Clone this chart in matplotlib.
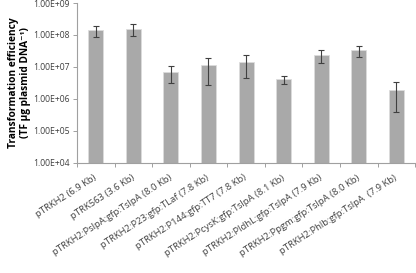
import numpy as np
import matplotlib
matplotlib.use("Agg")
import matplotlib.pyplot as plt
from matplotlib.ticker import FixedLocator, NullLocator

# values
labels = [
    "pTRKH2 (6.9 Kb)",
    "pTRK563 (3.6 Kb)",
    "pTRKH2:PslpA:gfp:TslpA (8.0 Kb)",
    "pTRKH2:P23:gfp:TLaf (7.8 Kb)",
    "pTRKH2:P144:gfp:TT7 (7.8 Kb)",
    "pTRKH2:PcysK:gfp:TslpA (8.1 Kb)",
    "pTRKH2:PldhL:gfp:TslpA (7.9 Kb)",
    "pTRKH2:Ppgm:gfp:TslpA (8.0 Kb)",
    "pTRKH2:Phlb:gfp:TslpA  (7.9 Kb)",
]
efficiency = [1.4e8, 1.55e8, 6.8e6, 1.13e7, 1.4e7, 4.2e6, 2.3e7, 3.3e7, 1.95e6]
errors = [5.5e7, 6.2e7, 3.7e6, 8.5e6, 9.5e6, 1.2e6, 1.0e7, 1.2e7, 1.55e6]
yticks = [1e4, 1e5, 1e6, 1e7, 1e8, 1e9]

plt.rcParams["font.family"] = ["Open Sans", "DejaVu Sans"]

fig = plt.figure(figsize=(4.16, 2.73), dpi=100)
ax = fig.add_axes([0.185, 0.403, 0.813, 0.586])

x = np.arange(len(labels))
ax.bar(x, efficiency, width=0.4, color="#a9a9a9", edgecolor="#dcdcdc", linewidth=0.6, zorder=2)
ax.errorbar(x, efficiency, yerr=errors, fmt="none", ecolor="#404040",
            elinewidth=0.8, capsize=2, capthick=0.8, zorder=3)

ax.set_yscale("log")
ax.set_ylim(1e4, 1e9)
ax.set_xlim(-0.5, len(labels) - 0.5)
ax.yaxis.set_major_locator(FixedLocator(yticks))
ax.yaxis.set_minor_locator(NullLocator())
ax.set_yticklabels([f"{v:.2E}" for v in yticks], fontsize=6.2, color="#404040")

ax.set_xticks(x)
ax.set_xticklabels(labels, rotation=33, ha="right", va="center", rotation_mode="anchor",
                   fontsize=6.8, color="#404040")
ax.tick_params(axis="x", length=0, pad=10)
ax.set_xticks(np.arange(len(labels) + 1) - 0.5, minor=True)
ax.tick_params(axis="x", which="minor", length=3, color="#a0a0a0", width=0.7)
ax.tick_params(axis="y", length=3, color="#a0a0a0", width=0.7, pad=2)

ax.set_ylabel("Transformation efficiency\n(TF µg plasmid DNA\u207b\u00b9)",
              fontsize=7.3, fontweight="bold", linespacing=1.1, labelpad=2)

for s in ["top", "right"]:
    ax.spines[s].set_visible(False)
for s in ["left", "bottom"]:
    ax.spines[s].set_color("#a0a0a0")
    ax.spines[s].set_linewidth(0.8)

fig.savefig("out.png", dpi=100)
